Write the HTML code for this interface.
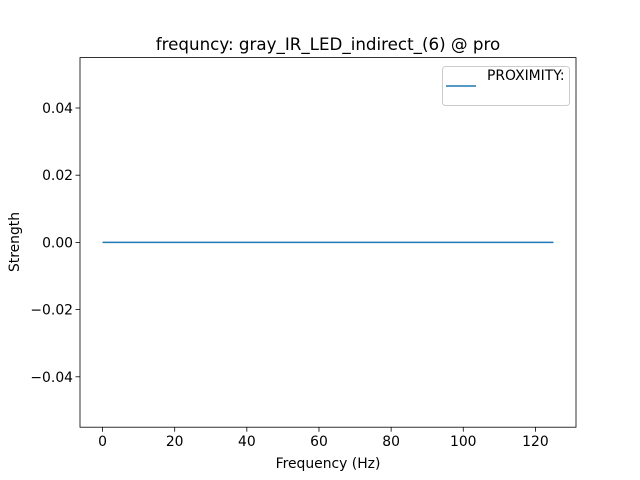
<!DOCTYPE html>
<html><head><meta charset="utf-8"><style>
body{margin:0;background:#fff;}
svg{display:block;font-family:"DejaVu Sans","Liberation Sans",sans-serif;}
</style></head><body>
<svg id="chart" width="640" height="480">
<rect width="640" height="480" fill="#fff"/>
<text x="328" y="50" text-anchor="middle" font-size="16.7">frequncy: gray_IR_LED_indirect_(6) @ pro</text>
<g id="axes"></g>
<text x="328" y="468" text-anchor="middle" font-size="13.9">Frequency (Hz)</text>
<text transform="translate(19,242) rotate(-90)" text-anchor="middle" font-size="13.9">Strength</text>
<g>
<rect x="442.5" y="66.5" width="127" height="39" rx="3" fill="#fff" stroke="#ccc"/>
<line x1="446" y1="86" x2="476" y2="86" stroke="#1f77b4" stroke-width="1.5"/>
<text x="487" y="80" font-size="13.9">PROXIMITY:</text>
</g>
</svg>
<script>
const freqs=[0,25,50,75,100,125];
const strengths=[0,0,0,0,0,0];
const xTicks=[0,20,40,60,80,100,120];
const yTicks=[-0.04,-0.02,0,0.02,0.04];
const yLabels=["\u22120.04","\u22120.02","0.00","0.02","0.04"];
const L=80,R=576,T=57.6,B=427.2;
const xMin=-6.25,xMax=131.25,yMin=-0.055,yMax=0.055;
const xs=v=>L+(v-xMin)/(xMax-xMin)*(R-L);
const ys=v=>B-(v-yMin)/(yMax-yMin)*(B-T);
const g=document.getElementById('axes');
const NS='http://www.w3.org/2000/svg';
function mk(t,a){const e=document.createElementNS(NS,t);for(const k in a)e.setAttribute(k,a[k]);g.appendChild(e);return e;}
xTicks.forEach(v=>{
const l=mk('line',{x1:xs(v),x2:xs(v),y1:B,y2:B+4.5,stroke:'#000','stroke-width':0.8});


const t=mk('text',{x:xs(v),y:B+19,'text-anchor':'middle','font-size':13.9});
t.textContent=v;


});
yTicks.forEach((v,i)=>{
const l=mk('line',{x1:L-4.5,x2:L,y1:ys(v),y2:ys(v),stroke:'#000','stroke-width':0.8});


const t=mk('text',{x:L-7,y:ys(v)+5,'text-anchor':'end','font-size':13.9});
t.textContent=yLabels[i];


});
const p=mk('polyline',{points:freqs.map((f,i)=>xs(f)+','+ys(strengths[i])).join(' '),fill:'none',stroke:'#1f77b4','stroke-width':1.5});


const fr=mk('rect',{x:L,y:T,width:R-L,height:B-T,fill:'none',stroke:'#000','stroke-width':0.8});


</script>
</body></html>
